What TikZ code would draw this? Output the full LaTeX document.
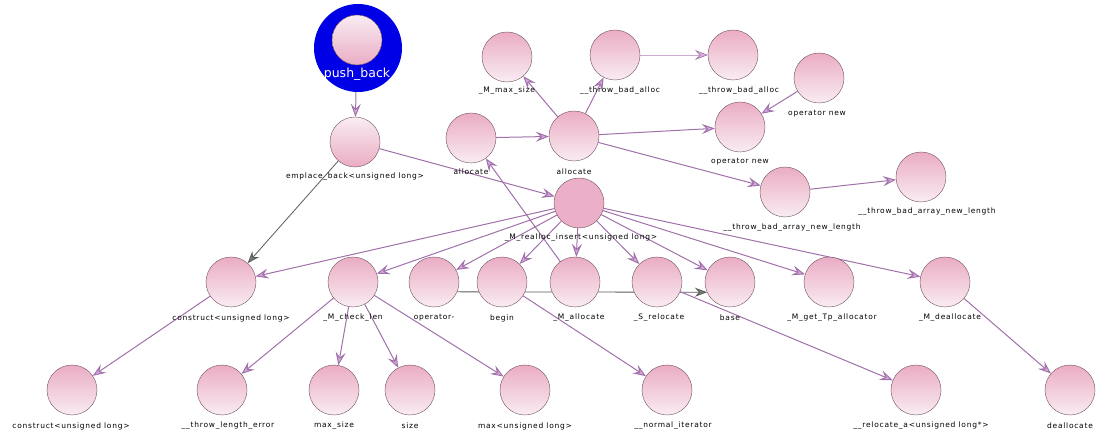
\documentclass[tikz,border=0pt]{standalone}
\usepackage{fontspec}
\setmainfont{DejaVu Sans}
\newfontfamily\lblfont[LetterSpace=10]{DejaVu Sans}
\usetikzlibrary{arrows.meta}
\definecolor{pinkD}{RGB}{234,172,196}
\definecolor{pinkL}{RGB}{249,236,242}
\definecolor{pinkS}{RGB}{235,176,199}
\definecolor{nborder}{RGB}{110,80,95}
\definecolor{edgec}{RGB}{160,112,170}
\definecolor{arrowf}{RGB}{218,170,222}
\definecolor{edgelight}{RGB}{205,170,210}
\definecolor{grayc}{RGB}{90,90,90}
\definecolor{pbblue}{RGB}{0,0,230}
\pgfdeclarelayer{bg}
\pgfsetlayers{bg,main}
\tikzset{
  fn/.style={circle, minimum size=50pt, inner sep=0pt, draw=nborder, line width=0.4pt, top color=pinkD, bottom color=pinkL},
  fnrev/.style={circle, minimum size=50pt, inner sep=0pt, draw=nborder, line width=0.4pt, top color=pinkL, bottom color=pinkD},
  fnsolid/.style={circle, minimum size=50pt, inner sep=0pt, draw=nborder, line width=0.4pt, fill=pinkS},
  lbl/.style={font=\lblfont\fontsize{7.5}{8}\selectfont, text=black, inner sep=0pt},
  edge/.style={draw=edgec, line width=1pt, -{Stealth[length=13pt,width=10pt,inset=5pt,fill=arrowf]}},
  gedge/.style={draw=grayc, line width=0.8pt, -{Stealth[length=12pt,width=9pt,inset=4pt,fill=grayc!80]}},
  ledge/.style={draw=edgelight, line width=0.6pt, -{Stealth[length=13pt,width=10pt,inset=5pt,color=edgec,fill=arrowf]}}
}
\begin{document}
\begin{tikzpicture}[x=1pt,y=-1pt]
\useasboundingbox (0,0) rectangle (1113,443);
% focus node
\node[circle, minimum size=88pt, inner sep=0pt, fill=pbblue] (PBbg) at (358,48) {};
\node[fnrev] (PB) at (357,40) {};
\node[text=white, font=\fontsize{12.5}{13}\selectfont, inner sep=0pt] (PBl) at (357,74) {push\_back};
% nodes
\node[fnrev] (A) at (355,142) {};
\node[lbl] (Al) at (355,177) {emplace\_back<unsigned long>};
\node[fn] (B) at (471,138) {};
\node[lbl] (Bl) at (471,172) {allocate};
\node[fn] (C) at (574,136) {};
\node[lbl] (Cl) at (574,172) {allocate};
\node[fn] (D) at (507,57) {};
\node[lbl] (Dl) at (507,91) {\_M\_max\_size};
\node[fn] (E) at (615,55) {};
\node[lbl] (El) at (620,91) {\_\_throw\_bad\_alloc};
\node[fn] (F) at (733,55) {};
\node[lbl] (Fl) at (739,91) {\_\_throw\_bad\_alloc};
\node[fn] (G) at (819,78) {};
\node[lbl] (Gl) at (817,114) {operator new};
\node[fn] (H) at (740,127) {};
\node[lbl] (Hl) at (740,162) {operator new};
\node[fn] (I) at (785,192) {};
\node[lbl] (Il) at (792,228) {\_\_throw\_bad\_array\_new\_length};
\node[fn] (J) at (921,177) {};
\node[lbl] (Jl) at (927,212) {\_\_throw\_bad\_array\_new\_length};
\node[fnsolid] (K) at (579,203) {};
\node[lbl] (Kl) at (581,238) {\_M\_realloc\_insert<unsigned long>};
% row 3
\node[fn] (L) at (231,282) {};
\node[lbl] (Ll) at (231,318) {construct<unsigned long>};
\node[fn] (M) at (353,282) {};
\node[lbl] (Ml) at (353,318) {\_M\_check\_len};
\node[fn] (N) at (434,282) {};
\node[lbl] (Nl) at (434,318) {operator-};
\node[fn] (O) at (502,282) {};
\node[lbl] (Ol) at (502,318) {begin};
\node[fn] (P) at (575,282) {};
\node[lbl] (Pl) at (579,318) {\_M\_allocate};
\node[fn] (Q) at (657,282) {};
\node[lbl] (Ql) at (659,318) {\_S\_relocate};
\node[fn] (R) at (730,282) {};
\node[lbl] (Rl) at (730,318) {base};
\node[fn] (S) at (829,282) {};
\node[lbl] (Sl) at (832,318) {\_M\_get\_Tp\_allocator};
\node[fn] (T) at (945,282) {};
\node[lbl] (Tl) at (950,318) {\_M\_deallocate};
% row 4
\node[fn] (U) at (72,390) {};
\node[lbl] (Ul) at (71,426) {construct<unsigned long>};
\node[fn] (V) at (222,390) {};
\node[lbl] (Vl) at (228,426) {\_\_throw\_length\_error};
\node[fn] (W) at (334,390) {};
\node[lbl] (Wl) at (334,426) {max\_size};
\node[fn] (X) at (410,390) {};
\node[lbl] (Xl) at (410,426) {size};
\node[fn] (Y) at (525,390) {};
\node[lbl] (Yl) at (525,426) {max<unsigned long>};
\node[fn] (Z) at (667,390) {};
\node[lbl] (Zl) at (673,426) {\_\_normal\_iterator};
\node[fn] (AA) at (916,390) {};
\node[lbl] (AAl) at (921,426) {\_\_relocate\_a<unsigned long*>};
\node[fn] (AB) at (1070,390) {};
\node[lbl] (ABl) at (1070,426) {deallocate};
% edges
\begin{pgfonlayer}{bg}
\draw[edge] (PB) -- (A);
\draw[gedge] (A) -- (L);
\draw[edge] (A) -- (K);
\draw[edge] (B) -- (C);
\draw[edge] (C) -- (D);
\draw[edge] (C) -- (E);
\draw[edge] (C) -- (H);
\draw[edge] (C) -- (I);
\draw[ledge] (E) -- (F);
\draw[edge] (G) -- (H);
\draw[edge] (I) -- (J);
\draw[edge] (K) -- (L);
\draw[edge] (K) -- (M);
\draw[edge] (K) -- (N);
\draw[edge] (K) -- (O);
\draw[edge] (K) -- (P);
\draw[edge] (K) -- (Q);
\draw[edge] (K) -- (R);
\draw[edge] (K) -- (S);
\draw[edge] (K) -- (T);
\draw[edge] (P) -- (B);
\draw[gedge] (N.-23.6) -- (R.-156.4);
\draw[edge] (L) -- (U);
\draw[edge] (M) -- (V);
\draw[edge] (M) -- (W);
\draw[edge] (M) -- (X);
\draw[edge] (M) -- (Y);
\draw[edge] (O) -- (Z);
\draw[edge] (Q) -- (AA);
\draw[edge] (T) -- (AB);
\end{pgfonlayer}
\end{tikzpicture}
\end{document}
